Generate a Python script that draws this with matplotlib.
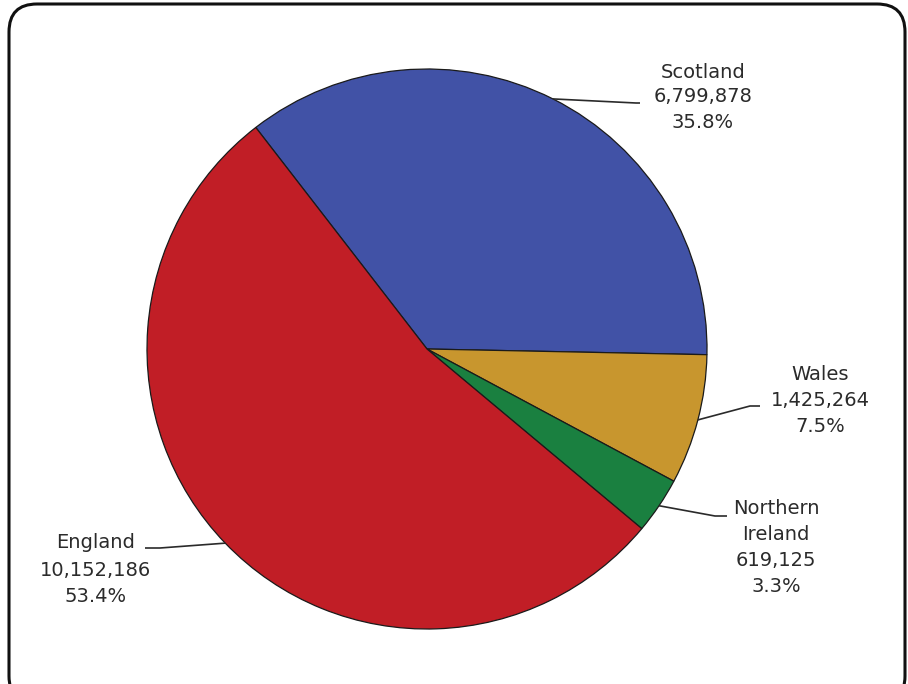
import matplotlib
matplotlib.use("Agg")
import matplotlib.pyplot as plt
from matplotlib.patches import FancyBboxPatch
import numpy as np

regions = ["Scotland", "Wales", "Northern\nIreland", "England"]
values = [6799878, 1425264, 619125, 10152186]
colors = ["#4152A6", "#C8962E", "#1A8040", "#C11E26"]

W, H = 908, 684
fig = plt.figure(figsize=(W / 100, H / 100), dpi=100)
ax = fig.add_axes([0, 0, 1, 1])

cx, cy, r = 427, H - 349, 280
start = 127.7
wedges, _ = ax.pie(values, colors=colors, startangle=start, counterclock=False,
                   center=(cx, cy), radius=r, frame=True,
                   wedgeprops=dict(edgecolor="#1a1a1a", linewidth=0.9))
ax.set_xlim(0, W)
ax.set_ylim(0, H)
ax.set_aspect("equal")
ax.axis("off")

total = sum(values)
# layout of labels: (elbow point, line end, text center x, first line y, line gap)
layout = [
    ((636, 103), (640, 103), 703, 72, 25),
    ((750, 406), (760, 406), 820, 374, 26),
    ((715, 516), (727, 516), 776, 508, 26),
    ((160, 548), (145, 548), 96, 543, 27),
]
txtcol = "#2b2b2b"
for w, name, v, (elb, end, tx, ty, gap) in zip(wedges, regions, values, layout):
    ang = np.deg2rad((w.theta1 + w.theta2) / 2)
    px, py = cx + r * np.cos(ang), cy + r * np.sin(ang)
    ax.plot([px, elb[0], end[0]], [py, H - elb[1], H - end[1]], color="#2a2a2a", lw=1.2,
            solid_capstyle="butt")
    lines = name.split("\n") + [f"{v:,}", f"{100 * v / total:.1f}%"]
    for i, s in enumerate(lines):
        ax.text(tx, H - (ty + i * gap), s, ha="center", va="center", fontsize=14,
                color=txtcol, family="DejaVu Sans")

border = FancyBboxPatch((9, H - 704), 896, 700, boxstyle="round,pad=0,rounding_size=28",
                        fill=False, edgecolor="#111111", linewidth=2.2, clip_on=False)
ax.add_patch(border)

fig.savefig("out.png", dpi=100, facecolor="white")
